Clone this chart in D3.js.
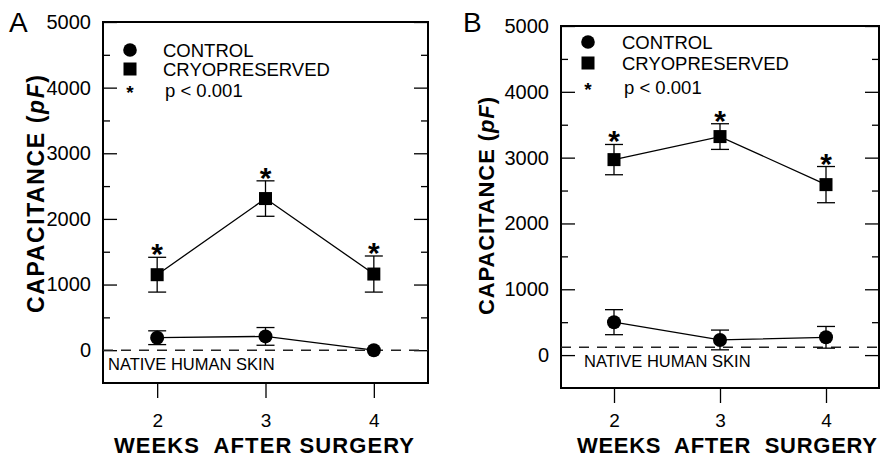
<!DOCTYPE html>
<html>
<head>
<meta charset="utf-8">
<script src="https://cdn.jsdelivr.net/npm/d3@7"></script>
<style>
  body { margin: 0; background: #fff; }
  svg { display: block; font-family: "Liberation Sans", Arial, sans-serif; }
</style>
</head>
<body>
<div id="chart"></div>
<script>
// values
const weeks = [2, 3, 4];
const xTickLabels = ["2", "3", "4"];
const yTicks = [0, 1000, 2000, 3000, 4000, 5000];
const yMinorTicks = [500, 1500, 2500, 3500, 4500];

const controlA = [190, 210, 0];
const controlErrA = [105, 135, 0];
const cryoA = [1150, 2310, 1160];
const cryoErrA = [265, 270, 275];
const nativeA = 0;

const controlB = [500, 230, 270];
const controlErrB = [190, 150, 165];
const cryoB = [2970, 3320, 2590];
const cryoErrB = [230, 195, 275];
const nativeB = 120;

const legendLabels = ["CONTROL", "CRYOPRESERVED", "p < 0.001"];

const width = 880;
const height = 459;

let svg = d3.select("#chart").append("svg")
    .attr("width", width)
    .attr("height", height);

function drawPanel(p) {
    let g = svg.append("g");

    let xScale = d3.scaleLinear()
        .domain([1.5, 4.5])
        .range([p.left, p.right]);

    let yScale = d3.scaleLinear()
        .domain([-500, 5000])
        .range([p.bottom, p.top]);

    // left axis, major ticks with labels (ticks point inward)
    let yAxisL = g.append("g")
        .attr("transform", `translate(${p.left},0)`)
        .call(d3.axisLeft(yScale).tickValues(yTicks).tickSize(-14).tickPadding(12)
            .tickFormat(d3.format("d")));
    yAxisL.selectAll("text")
        .attr("font-size", 20)
        .style("font-size", "20px")
        .attr("fill", "#000");

    g.append("g")
        .attr("transform", `translate(${p.left},0)`)
        .call(d3.axisLeft(yScale).tickValues(yMinorTicks).tickSize(-7).tickFormat(""));

    g.append("g")
        .attr("transform", `translate(${p.right},0)`)
        .call(d3.axisRight(yScale).tickValues(yTicks).tickSize(-14).tickFormat(""));

    g.append("g")
        .attr("transform", `translate(${p.right},0)`)
        .call(d3.axisRight(yScale).tickValues(yMinorTicks).tickSize(-7).tickFormat(""));

    // tick labels sit at the same height in both panels
    let xAxis = g.append("g")
        .attr("transform", `translate(0,${p.bottom})`)
        .call(d3.axisBottom(xScale).tickValues(weeks).tickSize(15).tickPadding(p.xPad)
            .tickFormat((d, i) => xTickLabels[i]));
    xAxis.selectAll("text")
        .attr("font-size", 19)
        .style("font-size", "19px")
        .attr("fill", "#000");

    g.selectAll(".domain").remove();
    g.selectAll(".tick line").attr("stroke", "#000").attr("stroke-width", 1.3);

    // frame
    g.append("rect")
        .attr("x", p.left)
        .attr("y", p.top)
        .attr("width", p.right - p.left)
        .attr("height", p.bottom - p.top)
        .attr("fill", "none")
        .attr("stroke", "#000")
        .attr("stroke-width", 2);

    // native human skin reference
    g.append("line")
        .attr("x1", p.left)
        .attr("x2", p.right)
        .attr("y1", yScale(p.native))
        .attr("y2", yScale(p.native))
        .attr("stroke", "#222")
        .attr("stroke-width", 1.5)
        .attr("stroke-dasharray", "10,8");

    g.append("text")
        .attr("x", p.nativeX)
        .attr("y", p.nativeY)
        .style("font-size", "16.5px")
        .text("NATIVE HUMAN SKIN");

    let line = d3.line()
        .x((d, i) => xScale(weeks[i]))
        .y(d => yScale(d));

    [[p.control, p.controlErr], [p.cryo, p.cryoErr]].forEach(s => {
        g.append("path")
            .datum(s[0])
            .attr("d", line)
            .attr("fill", "none")
            .attr("stroke", "#000")
            .attr("stroke-width", 1.3);

        s[0].forEach((v, i) => {
            let e = s[1][i];
            if (e === 0) return;
            let cx = xScale(weeks[i]);
            g.append("line")
                .attr("x1", cx).attr("x2", cx)
                .attr("y1", yScale(v + e)).attr("y2", yScale(v - e))
                .attr("stroke", "#000").attr("stroke-width", 1.3);
            [v + e, v - e].forEach(c => {
                g.append("line")
                    .attr("x1", cx - 9).attr("x2", cx + 9)
                    .attr("y1", yScale(c)).attr("y2", yScale(c))
                    .attr("stroke", "#000").attr("stroke-width", 1.3);
            });
        });
    });

    // control circles
    g.selectAll(".ctl")
        .data(p.control)
        .enter()
        .append("circle")
        .attr("cx", (d, i) => xScale(weeks[i]))
        .attr("cy", d => yScale(d))
        .attr("r", 7)
        .attr("fill", "#000");

    // cryopreserved squares
    g.selectAll(".cryo")
        .data(p.cryo)
        .enter()
        .append("rect")
        .attr("x", (d, i) => xScale(weeks[i]) - 6.5)
        .attr("y", d => yScale(d) - 6.5)
        .attr("width", 13)
        .attr("height", 13)
        .attr("fill", "#000");

    // significance stars
    g.selectAll(".star")
        .data(p.cryo)
        .enter()
        .append("text")
        .attr("x", (d, i) => xScale(weeks[i]))
        .attr("y", (d, i) => yScale(d + p.cryoErr[i]) + 7)
        .attr("text-anchor", "middle")
        .style("font-size", "30px")
        .style("font-weight", "bold")
        .text("*");

    // legend
    let lg = g.append("g");
    lg.append("circle")
        .attr("cx", p.legX).attr("cy", p.legY[0]).attr("r", 6.8).attr("fill", "#000");
    lg.append("rect")
        .attr("x", p.legX - 6.5).attr("y", p.legY[1] - 6.5)
        .attr("width", 13).attr("height", 13).attr("fill", "#000");
    lg.append("text")
        .attr("x", p.legX).attr("y", p.legY[2] + 9)
        .attr("text-anchor", "middle")
        .style("font-size", "19px")
        .style("font-weight", "bold")
        .text("*");
    legendLabels.forEach((t, i) => {
        lg.append("text")
            .attr("x", p.legTextX + (i === 2 ? 2 : 0))
            .attr("y", p.legY[i] + 7)
            .style("font-size", "18.5px")
            .text(t);
    });

    // titles
    g.append("text")
        .attr("transform", `translate(${p.yTitleX},${p.yTitleY}) rotate(-90)`)
        .attr("text-anchor", "middle")
        .attr("textLength", p.yTitleLen)
        .attr("lengthAdjust", "spacing")
        .style("font-size", p.yTitleSize + "px")
        .style("font-weight", "bold")
        .html("CAPACITANCE (<tspan font-style='italic'>pF</tspan>)");

    g.append("text")
        .attr("x", p.xTitleX)
        .attr("y", 453)
        .attr("text-anchor", "middle")
        .attr("textLength", 300)
        .attr("lengthAdjust", "spacing")
        .style("font-size", "22px")
        .style("font-weight", "bold")
        .style("white-space", "pre")
        .text(p.xTitle);

    g.append("text")
        .attr("x", p.letterX)
        .attr("y", 32)
        .style("font-size", "28px")
        .text(p.letter);
}

drawPanel({
    letter: "A", letterX: 9,
    left: 103, right: 428, top: 22, bottom: 383,
    control: controlA, controlErr: controlErrA,
    cryo: cryoA, cryoErr: cryoErrA,
    native: nativeA, nativeX: 108, nativeY: 370,
    legX: 130, legY: [50, 69, 90], legTextX: 163,
    yTitleX: 44, yTitleY: 194, yTitleLen: 238, yTitleSize: 23,
    xTitleX: 264, xTitle: "WEEKS  AFTER SURGERY", xPad: 16
});

drawPanel({
    letter: "B", letterX: 463,
    left: 561, right: 879, top: 26, bottom: 388,
    control: controlB, controlErr: controlErrB,
    cryo: cryoB, cryoErr: cryoErrB,
    native: nativeB, nativeX: 584, nativeY: 367,
    legX: 588, legY: [42, 63, 87], legTextX: 622,
    yTitleX: 494, yTitleY: 206, yTitleLen: 218, yTitleSize: 22,
    xTitleX: 727, xTitle: "WEEKS  AFTER  SURGERY", xPad: 11
});
</script>
</body>
</html>
